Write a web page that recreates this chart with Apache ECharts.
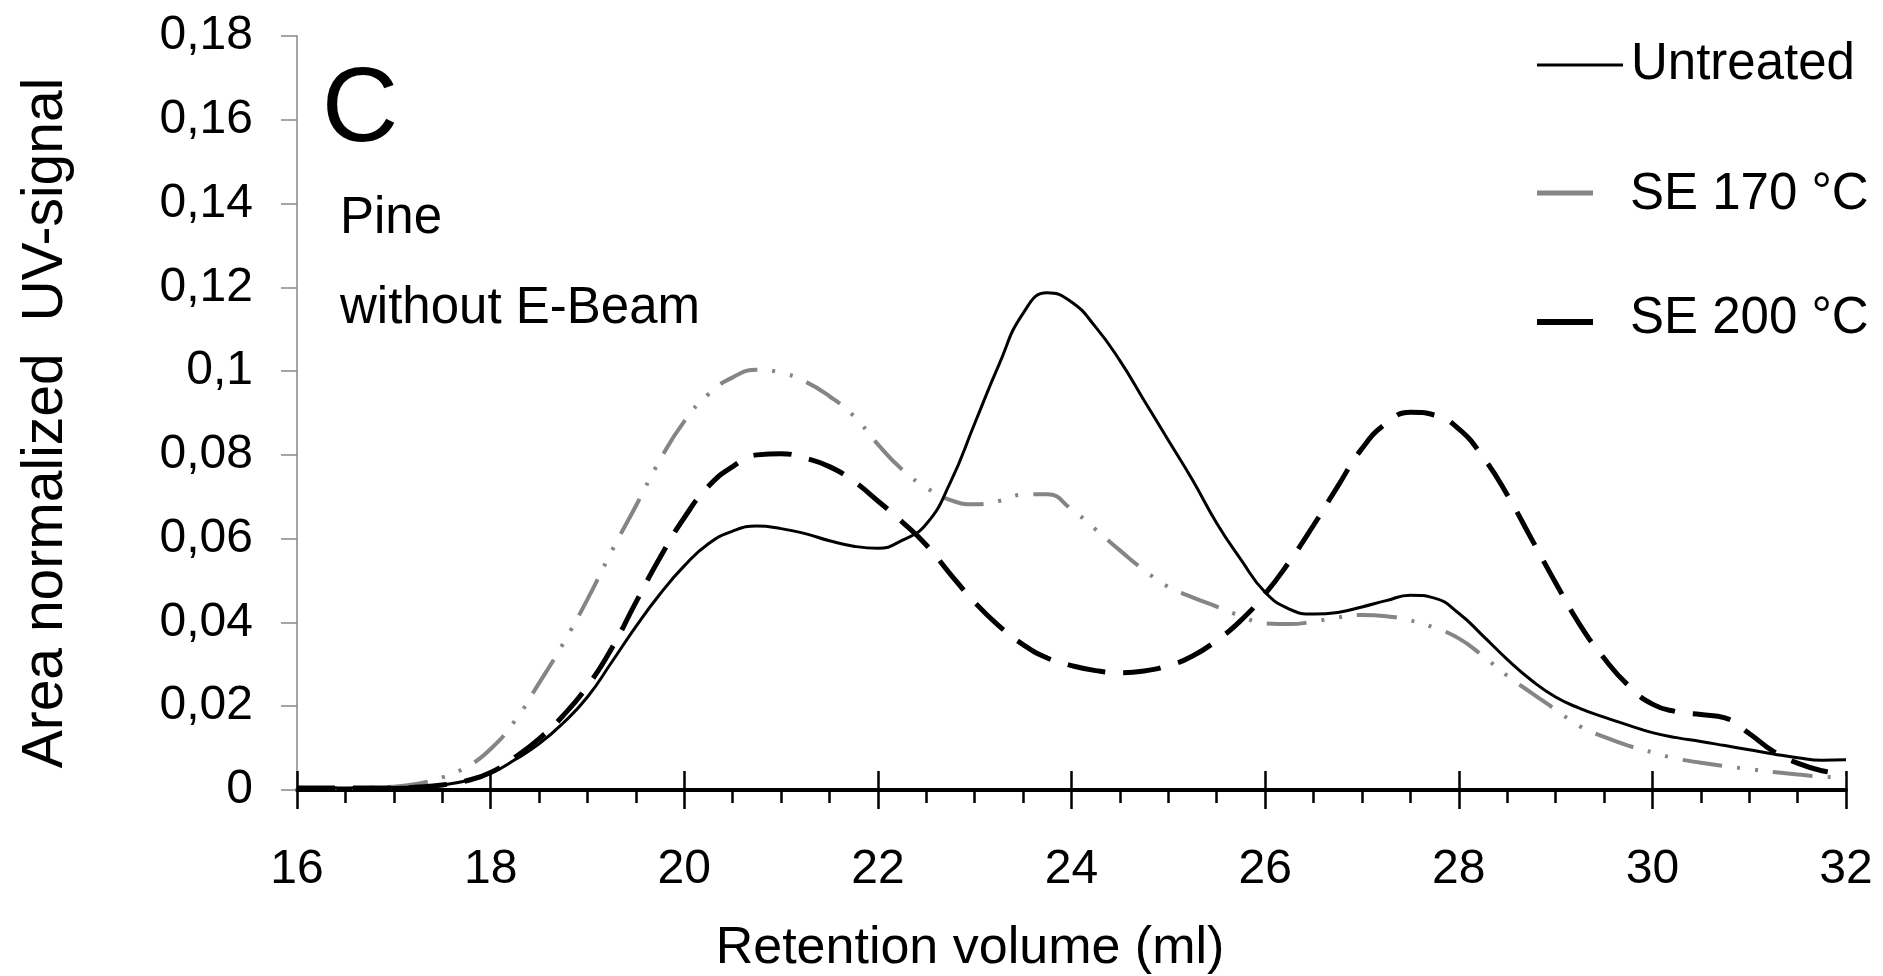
<!DOCTYPE html>
<html>
<head>
<meta charset="utf-8">
<script src="https://cdn.jsdelivr.net/npm/echarts@6/dist/echarts.min.js"></script>
<style>
html,body{margin:0;padding:0;background:#fff;}
#chart{width:1883px;height:976px;}
</style>
</head>
<body>
<div id="chart"></div>
<script>
// Retention volume (ml)
const volume = [16, 16.5, 17, 17.25, 17.5, 17.75, 18, 18.25, 18.5, 18.75, 19, 19.25, 19.5, 19.75, 20, 20.25, 20.5, 20.75, 21, 21.25, 21.5, 21.75, 22, 22.25, 22.5, 22.75, 23, 23.25, 23.5, 23.75, 24, 24.25, 24.5, 24.75, 25, 25.25, 25.5, 25.75, 26, 26.25, 26.5, 26.75, 27, 27.25, 27.5, 27.75, 28, 28.25, 28.5, 28.75, 29, 29.25, 29.5, 29.75, 30, 30.25, 30.5, 30.75, 31, 31.25, 31.5, 31.75, 32];
const untreated = [0.0005, 0.0005, 0.0006, 0.0008, 0.0012, 0.0022, 0.004, 0.0072, 0.011, 0.016, 0.0222, 0.0305, 0.039, 0.0468, 0.0535, 0.0588, 0.0618, 0.063, 0.0624, 0.0612, 0.0595, 0.0582, 0.0577, 0.0596, 0.0635, 0.0735, 0.0875, 0.1015, 0.1138, 0.1187, 0.1165, 0.1105, 0.1025, 0.093, 0.0835, 0.074, 0.0637, 0.055, 0.0472, 0.0432, 0.042, 0.0424, 0.0437, 0.0452, 0.0465, 0.0458, 0.0422, 0.0368, 0.0312, 0.0262, 0.0222, 0.0195, 0.0174, 0.0155, 0.0137, 0.0125, 0.0116, 0.0106, 0.0096, 0.0086, 0.0077, 0.0071, 0.0072];
const se170 = [0.0005, 0.0005, 0.0008, 0.0015, 0.003, 0.0055, 0.0098, 0.0165, 0.0255, 0.035, 0.0455, 0.057, 0.0678, 0.0788, 0.088, 0.0945, 0.0985, 0.1003, 0.0996, 0.0975, 0.094, 0.0893, 0.0825, 0.0765, 0.0722, 0.0692, 0.0682, 0.069, 0.0705, 0.0706, 0.067, 0.0622, 0.0572, 0.0525, 0.0485, 0.046, 0.0438, 0.0415, 0.0398, 0.0396, 0.0402, 0.0412, 0.0418, 0.0415, 0.0405, 0.0387, 0.0362, 0.032, 0.0273, 0.0232, 0.0192, 0.0152, 0.0127, 0.0106, 0.009, 0.0075, 0.0065, 0.0057, 0.005, 0.0043, 0.0037, 0.0032, 0.003];
const se200 = [0.0005, 0.0005, 0.0005, 0.0007, 0.0012, 0.0022, 0.0042, 0.0078, 0.0122, 0.0178, 0.0248, 0.0338, 0.0448, 0.0555, 0.065, 0.0725, 0.0772, 0.08, 0.0803, 0.0792, 0.0772, 0.0737, 0.069, 0.064, 0.0585, 0.0515, 0.0448, 0.0392, 0.0347, 0.0315, 0.0297, 0.0285, 0.028, 0.0284, 0.0297, 0.032, 0.0357, 0.0405, 0.0468, 0.0545, 0.0632, 0.0725, 0.0815, 0.0875, 0.0902, 0.0895, 0.0862, 0.0795, 0.0705, 0.06, 0.0495, 0.0395, 0.0315, 0.025, 0.0205, 0.0187, 0.018, 0.0172, 0.0135, 0.0092, 0.0064, 0.0046, 0.0038];
const seriesNames = ['Untreated', 'SE 170 °C', 'SE 200 °C'];
const xTicks = {min: 16, max: 32, interval: 2};
const yTicks = {min: 0, max: 0.18, interval: 0.02};
const panelLetter = 'C';
const panelNotes = ['Pine', 'without E-Beam'];
const xName = 'Retention volume (ml)';
const yName = 'Area normalized  UV-signal';

const FONT = "'Liberation Sans', Arial, sans-serif";
const GRAY = '#858585';

function pairs(ys) { return volume.map((v, i) => [v, ys[i]]); }

const chart = echarts.init(document.getElementById('chart'), null, {renderer: 'canvas'});

const option = {
  animation: false,
  backgroundColor: '#fff',
  grid: {left: 297, right: 37, top: 36, bottom: 186, containLabel: false},
  xAxis: [{
    type: 'value', min: xTicks.min, max: xTicks.max, interval: xTicks.interval,
    position: 'bottom',
    axisLine: {onZero: false, lineStyle: {color: '#000', width: 4}},
    axisTick: {show: true, inside: false, length: 19, lineStyle: {color: '#000', width: 2.5}},
    minorTick: {show: true, splitNumber: 4, length: 13, lineStyle: {color: '#000', width: 2.5}},
    axisLabel: {margin: 56, color: '#000', fontSize: 48, fontFamily: FONT},
    splitLine: {show: false}, minorSplitLine: {show: false}
  }, {
    type: 'value', min: xTicks.min, max: xTicks.max, interval: xTicks.interval,
    position: 'bottom',
    axisLine: {show: false, onZero: false},
    axisTick: {show: true, inside: true, length: 19, lineStyle: {color: '#000', width: 2.5}},
    axisLabel: {show: false},
    splitLine: {show: false}
  }],
  yAxis: {
    type: 'value', min: yTicks.min, max: yTicks.max, interval: yTicks.interval,
    axisLine: {show: true, lineStyle: {color: '#888', width: 1.5}},
    axisTick: {show: true, inside: false, length: 16, lineStyle: {color: '#888', width: 1.5}},
    axisLabel: {margin: 44, color: '#000', fontSize: 48, fontFamily: FONT,
      formatter: v => String(Math.round(v * 100) / 100).replace('.', ',')},
    splitLine: {show: false}
  },
  series: [{
    name: seriesNames[1], type: 'line', data: pairs(se170), xAxisIndex: 0,
    showSymbol: false, smooth: 0.5, z: 2,
    lineStyle: {color: GRAY, width: 4, type: [40, 15, 3, 15, 3, 15], cap: 'butt'}
  }, {
    name: seriesNames[2], type: 'line', data: pairs(se200), xAxisIndex: 0,
    showSymbol: false, smooth: 0.5, z: 3,
    lineStyle: {color: '#000', width: 5, type: [38, 18], cap: 'butt'}
  }, {
    name: seriesNames[0], type: 'line', data: pairs(untreated), xAxisIndex: 0,
    showSymbol: false, smooth: 0.5, z: 4,
    lineStyle: {color: '#000', width: 3, type: 'solid'}
  }],
  graphic: [
    {type: 'text', x: 360, y: 112, style: {text: panelLetter, font: '106px ' + FONT, fill: '#000', align: 'center', verticalAlign: 'middle'}},
    {type: 'text', x: 340, y: 219, style: {text: panelNotes[0], font: '51px ' + FONT, fill: '#000', align: 'left', verticalAlign: 'middle'}},
    {type: 'text', x: 340, y: 309, style: {text: panelNotes[1], font: '51px ' + FONT, fill: '#000', align: 'left', verticalAlign: 'middle'}},
    {type: 'text', x: 970, y: 949, style: {text: xName, font: '52px ' + FONT, fill: '#000', align: 'center', verticalAlign: 'middle'}},
    {type: 'text', x: 46, y: 423, rotation: Math.PI / 2, style: {text: yName, font: '57px ' + FONT, fill: '#000', align: 'center', verticalAlign: 'middle'}},
    // legend
    {type: 'line', shape: {x1: 1537, y1: 65, x2: 1623, y2: 65}, style: {stroke: '#000', lineWidth: 3}},
    {type: 'text', x: 1631, y: 65, style: {text: seriesNames[0], font: '51px ' + FONT, fill: '#000', align: 'left', verticalAlign: 'middle'}},
    {type: 'line', shape: {x1: 1537, y1: 193, x2: 1593, y2: 193}, style: {stroke: GRAY, lineWidth: 5}},
    {type: 'text', x: 1630, y: 195, style: {text: seriesNames[1], font: '51px ' + FONT, fill: '#000', align: 'left', verticalAlign: 'middle'}},
    {type: 'line', shape: {x1: 1537, y1: 322, x2: 1593, y2: 322}, style: {stroke: '#000', lineWidth: 6}},
    {type: 'text', x: 1630, y: 319, style: {text: seriesNames[2], font: '51px ' + FONT, fill: '#000', align: 'left', verticalAlign: 'middle'}}
  ]
};
chart.setOption(option);
</script>
</body>
</html>
